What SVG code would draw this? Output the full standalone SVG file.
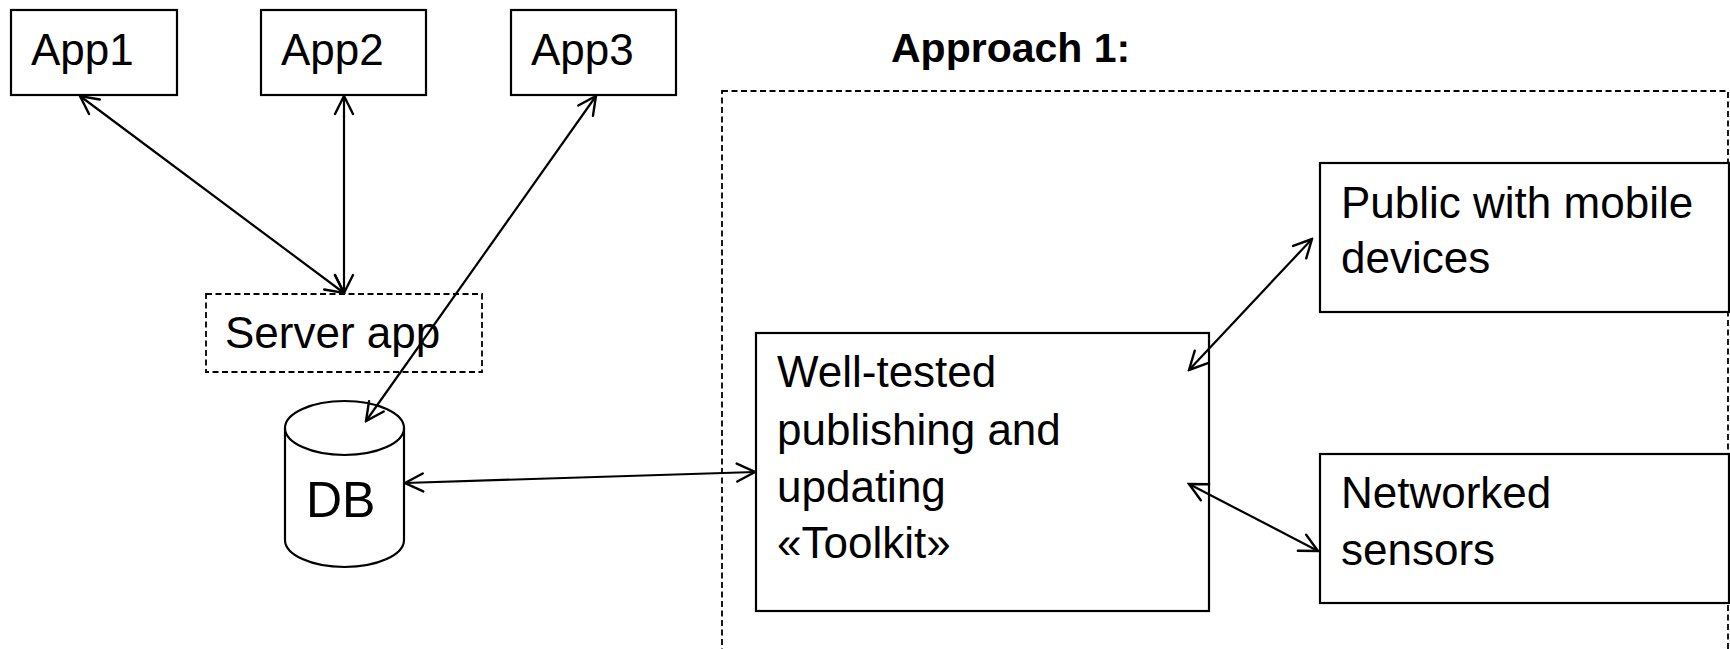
<svg xmlns="http://www.w3.org/2000/svg" width="1730" height="649" viewBox="0 0 1730 649">
<style>
  .box { fill: #ffffff; stroke: #000000; stroke-width: 2.2; }
  .dash { fill: none; stroke: #000000; stroke-width: 1.8; stroke-dasharray: 6 3.5; }
  .lbl { font-family: "Liberation Sans", Arial, sans-serif; font-size: 44px; fill: #000000; }
  .title { font-family: "Liberation Sans", Arial, sans-serif; font-size: 41px; font-weight: bold; fill: #000000; }
  .conn { fill: none; stroke: #000000; stroke-width: 2.2; marker-start: url(#arr); marker-end: url(#arr); }
</style>
<defs>
  <marker id="arr" markerUnits="userSpaceOnUse" viewBox="-20 -11 22 22" refX="0" refY="0" markerWidth="22" markerHeight="22" orient="auto-start-reverse">
    <path d="M-18,-9 L0,0 L-18,9" fill="none" stroke="#000000" stroke-width="2.4" stroke-linecap="round" stroke-linejoin="miter"/>
  </marker>
</defs>
<rect width="1730" height="649" fill="#ffffff"/>

<g id="approach1">
  <text class="title" x="891" y="62">Approach 1:</text>
  <rect class="dash" x="722" y="91" width="1006" height="620"/>
</g>

<g id="app1">
  <rect class="box" x="11" y="10" width="166" height="85"/>
  <text class="lbl" x="31" y="65">App1</text>
</g>
<g id="app2">
  <rect class="box" x="261" y="10" width="165" height="85"/>
  <text class="lbl" x="281" y="65">App2</text>
</g>
<g id="app3">
  <rect class="box" x="511" y="10" width="165" height="85"/>
  <text class="lbl" x="531" y="65">App3</text>
</g>

<g id="server">
  <rect class="dash" x="206" y="294" width="276" height="78"/>
  <text class="lbl" x="225" y="348">Server app</text>
</g>

<g id="db">
  <path class="box" d="M285,428 L285,540 A59.5,27 0 0 0 404,540 L404,428"/>
  <ellipse class="box" cx="344.5" cy="428" rx="59.5" ry="27"/>
  <text x="306" y="517" font-family="Liberation Sans, Arial, sans-serif" font-size="50" fill="#000000">DB</text>
</g>

<g id="toolkit">
  <rect class="box" x="756" y="333" width="453" height="278"/>
  <text class="lbl" x="777" y="387">Well-tested</text>
  <text class="lbl" x="777" y="445">publishing and</text>
  <text class="lbl" x="777" y="502">updating</text>
  <text class="lbl" x="777" y="558">«Toolkit»</text>
</g>

<g id="public">
  <rect class="box" x="1320" y="163" width="409" height="149"/>
  <text class="lbl" x="1341" y="218">Public with mobile</text>
  <text class="lbl" x="1341" y="273">devices</text>
</g>

<g id="sensors">
  <rect class="box" x="1320" y="454" width="409" height="149"/>
  <text class="lbl" x="1341" y="508">Networked</text>
  <text class="lbl" x="1341" y="565">sensors</text>
</g>

<g id="connectors">
  <line class="conn" x1="80" y1="96" x2="344" y2="293"/>
  <line class="conn" x1="344" y1="96" x2="344" y2="293"/>
  <line class="conn" x1="596" y1="96" x2="366" y2="421"/>
  <line class="conn" x1="405" y1="483" x2="755" y2="472"/>
  <line class="conn" x1="1312" y1="239" x2="1189" y2="370"/>
  <line class="conn" x1="1189" y1="484" x2="1318" y2="551"/>
</g>
</svg>
